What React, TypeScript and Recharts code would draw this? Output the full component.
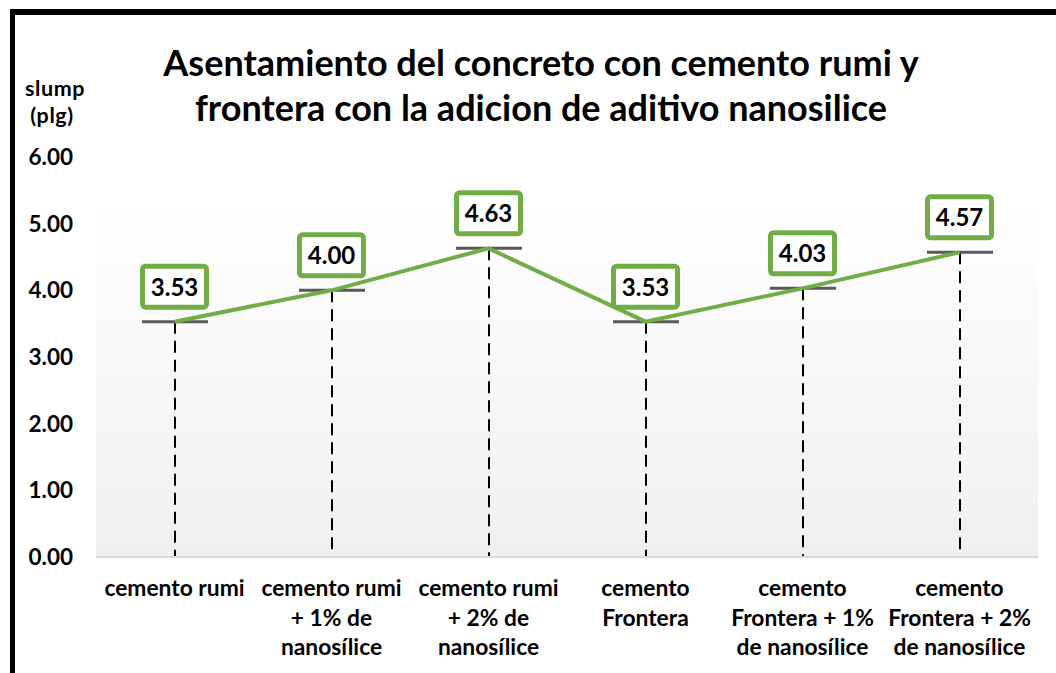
import React from "react";
import { ComposedChart, Line, Bar, XAxis, YAxis, CartesianGrid, LabelList } from "recharts";

const categories: string[][] = [
  ["cemento rumi"],
  ["cemento rumi", "+ 1% de", "nanosílice"],
  ["cemento rumi", "+ 2% de", "nanosílice"],
  ["cemento", "Frontera"],
  ["cemento", "Frontera + 1%", "de nanosílice"],
  ["cemento", "Frontera + 2%", "de nanosílice"],
];
const slumpValues: number[] = [3.53, 4.0, 4.63, 3.53, 4.03, 4.57];
const yTicks: number[] = [0, 1, 2, 3, 4, 5, 6];
const titleLines: string[] = [
  "Asentamiento del concreto con cemento rumi y",
  "frontera con la adicion de aditivo nanosilice",
];
const yLabelLines: string[] = ["slump", "(plg)"];

const data = categories.map((c, i) => ({ name: c.join(" "), idx: i, value: slumpValues[i] }));

const FONT = "Lato, 'Open Sans', sans-serif";
const GREEN = "#70ad47";

const XTick = (props: any) => {
  const { x, y, payload } = props;
  const lines = categories[payload.index] || [];
  return (
    <g>
      {lines.map((l, i) => (
        <text key={i} x={x} y={y + 39 + i * 29.5} textAnchor="middle" fontFamily={FONT} fontWeight={700} fontSize={22.8} fill="#000">
          {l}
        </text>
      ))}
    </g>
  );
};

const YTick = (props: any) => {
  const { x, y, payload } = props;
  return (
    <text x={x - 23} y={y + 8} textAnchor="end" fontFamily={FONT} fontWeight={700} fontSize={22.5} fill="#000">
      {Number(payload.value).toFixed(2)}
    </text>
  );
};

const DropShape = (props: any) => {
  const { x, y, width, height } = props;
  const cx = x + width / 2;
  return (
    <g>
      <line x1={cx} x2={cx} y1={y} y2={y + height} stroke="#000" strokeWidth={2} strokeDasharray="12 7" />
      <line x1={x} x2={x + width} y1={y} y2={y} stroke="#595959" strokeWidth={3} />
    </g>
  );
};

const BoxLabel = (props: any) => {
  const { x, y, value } = props;
  return (
    <g>
      <rect x={x - 32} y={y - 55.5} width={64} height={41} rx={3} ry={3} fill="#fff" stroke={GREEN} strokeWidth={5} />
      <text x={x} y={y - 26} textAnchor="middle" fontFamily={FONT} fontWeight={700} fontSize={24} fill="#000">
        {Number(value).toFixed(2)}
      </text>
    </g>
  );
};

export default function App() {
  return (
    <div style={{ position: "absolute", left: 0, top: 0, width: 1056, height: 673, background: "#fff", overflow: "hidden" }}>
      <div style={{ position: "absolute", left: 10, top: 9, width: 5, height: 664, background: "#000" }} />
      <div style={{ position: "absolute", left: 10, top: 9, width: 1046, height: 6, background: "#000" }} />
      <ComposedChart width={1056} height={673} data={data} margin={{ top: 157, right: 18, bottom: 0, left: 0 }}>
        <defs>
          <linearGradient id="plotBg" x1="0" y1="0" x2="0" y2="1">
            <stop offset="0%" stopColor="#ffffff" />
            <stop offset="12%" stopColor="#ffffff" />
            <stop offset="100%" stopColor="#f0f0f0" />
          </linearGradient>
        </defs>
        <CartesianGrid horizontal={false} vertical={false} fill="url(#plotBg)" stroke="none" />
        <XAxis
          dataKey="name"
          interval={0}
          tickSize={0}
          tickMargin={0}
          tickLine={false}
          axisLine={{ stroke: "#d9d9d9", strokeWidth: 2 }}
          tick={<XTick />}
          height={116}
        />
        <YAxis
          domain={[0, 6]}
          ticks={yTicks}
          width={96}
          tickSize={0}
          tickMargin={0}
          tickLine={false}
          axisLine={false}
          tick={<YTick />}
        />
        <Bar dataKey="value" barSize={66} shape={<DropShape />} isAnimationActive={false} />
        <Line dataKey="value" stroke={GREEN} strokeWidth={4} dot={false} activeDot={false} isAnimationActive={false}>
          <LabelList dataKey="value" content={<BoxLabel />} />
        </Line>
      </ComposedChart>
      <svg width={1056} height={140} style={{ position: "absolute", left: 0, top: 0, pointerEvents: "none" }}>
        {titleLines.map((t, i) => (
          <text key={i} x={541} y={76 + i * 45} textAnchor="middle" fontFamily={FONT} fontWeight={700} fontSize={36} fill="#000">
            {t}
          </text>
        ))}
        {yLabelLines.map((t, i) => (
          <text key={i} x={i === 0 ? 55 : 52} y={96 + i * 27} textAnchor="middle" fontFamily={FONT} fontWeight={700} fontSize={21.5} letterSpacing={0.6} fill="#000">
            {t}
          </text>
        ))}
      </svg>
    </div>
  );
}
